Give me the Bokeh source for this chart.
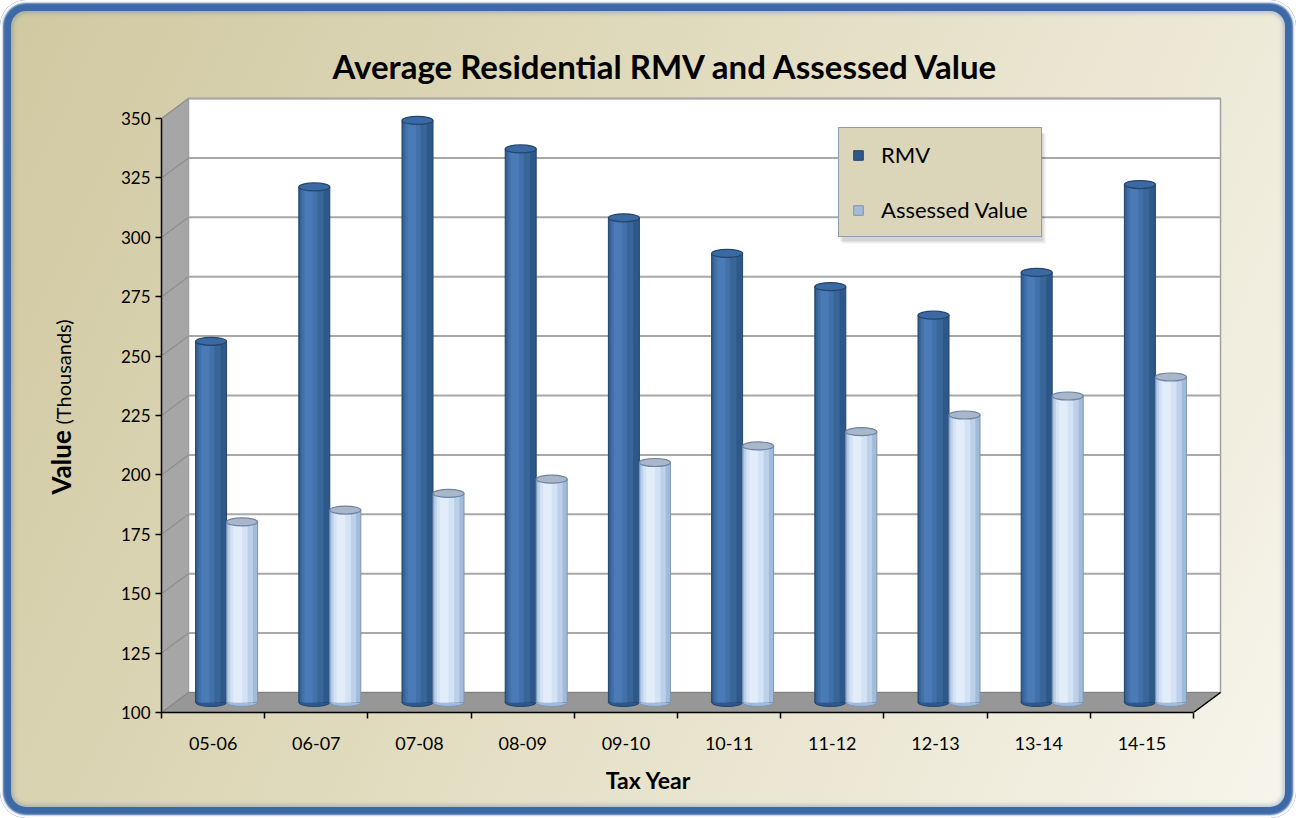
import numpy as np
from bokeh.plotting import figure
from bokeh.models import Range1d, FixedTicker, Label, Legend, LegendItem, BoxAnnotation
from bokeh.embed import file_html
from bokeh.resources import INLINE

# ---- data ----
years = ["05-06", "06-07", "07-08", "08-09", "09-10", "10-11", "11-12", "12-13", "13-14", "14-15"]
rmv = [252, 317, 345, 333, 304, 289, 275, 263, 281, 318]
assessed = [176, 181, 188, 194, 201, 208, 214, 221, 229, 237]
y_ticks = [100, 125, 150, 175, 200, 225, 250, 275, 300, 325, 350]

FONT = "Lato"
W, H = 1296, 818
PX_X = 103.2   # pixels per category
PX_Y = 2.376   # pixels per thousand
ML, MB, MT, MR = 161, 106, 90, 70
fw = W - ML - MR
fh = H - MT - MB
x_end = fw / PX_X
y_end = y_ticks[0] + fh / PX_Y
DX = 27 / PX_X       # depth offset (x, data units)
DY = 20 / PX_Y       # depth offset (y, data units)
y0, y1 = y_ticks[0], y_ticks[-1]
n = len(years)

p = figure(width=W, height=H, output_backend="svg", toolbar_location=None,
           x_range=Range1d(0, x_end), y_range=Range1d(y0, y_end),
           min_border_left=ML, min_border_right=MR, min_border_top=MT, min_border_bottom=MB)
p.background_fill_alpha = 0
p.border_fill_alpha = 0
p.outline_line_color = None
p.grid.visible = False
p.styles = {
    "background": "linear-gradient(115deg, #d0c8a0 0%, #e2dcc0 45%, #f7f5ec 100%)",
    "border-radius": "26px",
    "box-shadow": ("inset 0 0 2px 3px #ffffff, inset 0 0 0 11px #3d69a7, "
                   "inset 0 0 4px 13px rgba(70,110,170,0.35)"),
}

# ---- 3D walls ----
p.patch([0, DX, DX, 0], [y0, y0 + DY, y1 + DY, y1], fill_color="#a6a6a6", line_color="#8f8f8f", line_width=1)
p.quad(left=[DX], right=[n + DX], bottom=[y0 + DY], top=[y1 + DY],
       fill_color="white", line_color="#a0a0a0", line_width=1.5)
grid = y_ticks[1:]
p.segment(x0=[DX] * len(grid), x1=[n + DX] * len(grid), y0=[g + DY for g in grid], y1=[g + DY for g in grid],
          line_color="#a8a8a8", line_width=2)
p.segment(x0=[0] * len(grid), x1=[DX] * len(grid), y0=grid, y1=[g + DY for g in grid],
          line_color="#8e8e8e", line_width=1.2)
p.patch([0, n, n + DX, DX], [y0, y0, y0 + DY, y0 + DY], fill_color="#979797", line_color="#808080", line_width=1)
p.line([n, n + DX], [y0, y0 + DY], line_color="black", line_width=1.5)

# ---- cylinders ----
xc = np.arange(n) + 0.5 + DX / 2
bw = 31 / PX_X
eh = 8 / PX_Y
base = y0 + DY / 2


def cylinder(xcen, vals, strips, top_fill, top_line, outline):
    tops = np.array(vals, dtype=float) + DY / 2
    p.ellipse(x=xcen, y=[base] * n, width=bw, height=eh, fill_color=strips[0][2], line_color=outline, line_width=1)
    first = None
    for a, b, col in strips:
        cx = xcen - bw / 2 + bw * (a + b) / 2
        r = p.vbar(x=cx, width=bw * (b - a), bottom=base, top=tops, fill_color=col,
                   line_color=outline if first is None else None, line_width=1)
        if first is None:
            first = r
    p.ellipse(x=xcen, y=tops, width=bw, height=eh, fill_color=top_fill, line_color=top_line, line_width=1.2)
    return first


rmv_strips = [(0.0, 1.0, "#2d5889"), (0.04, 0.8, "#386699"), (0.1, 0.6, "#4170aa"),
              (0.18, 0.45, "#4a7bb6")]
av_strips = [(0.0, 1.0, "#a2bbdb"), (0.05, 0.85, "#bdd0ea"), (0.12, 0.68, "#d3e2f4"),
             (0.22, 0.5, "#e3edf9")]
r_rmv = cylinder(xc - bw / 2, rmv, rmv_strips, "#3b69a3", "#24456d", "#24456d")
r_av = cylinder(xc + bw / 2, assessed, av_strips, "#a9b7c9", "#6a84a6", "#7d94b3")

# ---- axes ----
yax = p.yaxis[0]
yax.ticker = FixedTicker(ticks=y_ticks)
yax.bounds = (y0, y1)
yax.axis_line_color = "black"
yax.axis_line_width = 1.5
yax.major_tick_line_color = "black"
yax.major_tick_line_width = 1.5
yax.major_tick_out = 6
yax.major_tick_in = 0
yax.minor_tick_line_color = None
yax.major_label_standoff = 5
yax.major_label_text_font = FONT
yax.major_label_text_font_size = "17px"
yax.major_label_text_color = "black"

centers = [i + 0.5 for i in range(n)]
xax = p.xaxis[0]
xax.ticker = FixedTicker(ticks=centers, minor_ticks=list(range(n + 1)))
xax.major_label_overrides = {c: lab for c, lab in zip(centers, years)}
xax.bounds = (0, n)
xax.axis_line_color = "black"
xax.axis_line_width = 1.5
xax.major_tick_line_color = None
xax.major_tick_out = 0
xax.major_tick_in = 0
xax.minor_tick_line_color = "black"
xax.minor_tick_line_width = 1.5
xax.minor_tick_out = 6
xax.minor_tick_in = 0
xax.major_label_standoff = 18
xax.major_label_text_font = FONT
xax.major_label_text_font_size = "18px"
xax.major_label_text_color = "black"

# ---- titles ----
p.title.text = "Average Residential RMV and Assessed Value"
p.title.text_font = FONT
p.title.text_font_size = "33px"
p.title.text_font_style = "bold"
p.title.text_color = "black"
p.title.align = "left"
p.title.offset = 171

# axis titles live in the side panels (not clipped to the frame), canvas units
p.add_layout(Label(x=60, y=494, x_units="canvas", y_units="canvas", text="Value", angle=np.pi / 2,
                   text_font=FONT, text_font_style="bold", text_font_size="26px",
                   text_align="left", text_baseline="middle", text_color="black"), "left")
p.add_layout(Label(x=62, y=424, x_units="canvas", y_units="canvas", text="(Thousands)", angle=np.pi / 2,
                   text_font=FONT, text_font_size="20px",
                   text_align="left", text_baseline="middle", text_color="black"), "left")
p.add_layout(Label(x=648, y=779, x_units="canvas", y_units="canvas", text="Tax Year",
                   text_font=FONT, text_font_style="bold", text_font_size="23px",
                   text_align="center", text_baseline="middle", text_color="black"), "below")

# ---- legend (with a soft drop shadow) ----
p.add_layout(BoxAnnotation(left=681, right=884, bottom=469, top=579,
                           left_units="screen", right_units="screen", bottom_units="screen", top_units="screen",
                           fill_color="black", fill_alpha=0.07, line_color=None))
p.add_layout(BoxAnnotation(left=679, right=882, bottom=471, top=580,
                           left_units="screen", right_units="screen", bottom_units="screen", top_units="screen",
                           fill_color="black", fill_alpha=0.10, line_color=None))
legend = Legend(items=[LegendItem(label="RMV", renderers=[r_rmv]),
                       LegendItem(label="Assessed Value", renderers=[r_av])],
                location=(677, 475), orientation="vertical",
                glyph_width=12, glyph_height=12, label_standoff=17, spacing=28, padding=13,
                label_height=22, label_text_font=FONT, label_text_font_size="22px",
                label_text_color="black", margin=0,
                background_fill_color="#dbd5b9", background_fill_alpha=1,
                border_line_color="#3f6aa6", border_line_width=1.5)
p.add_layout(legend)

open("out.html", "w").write(file_html(p, INLINE))
